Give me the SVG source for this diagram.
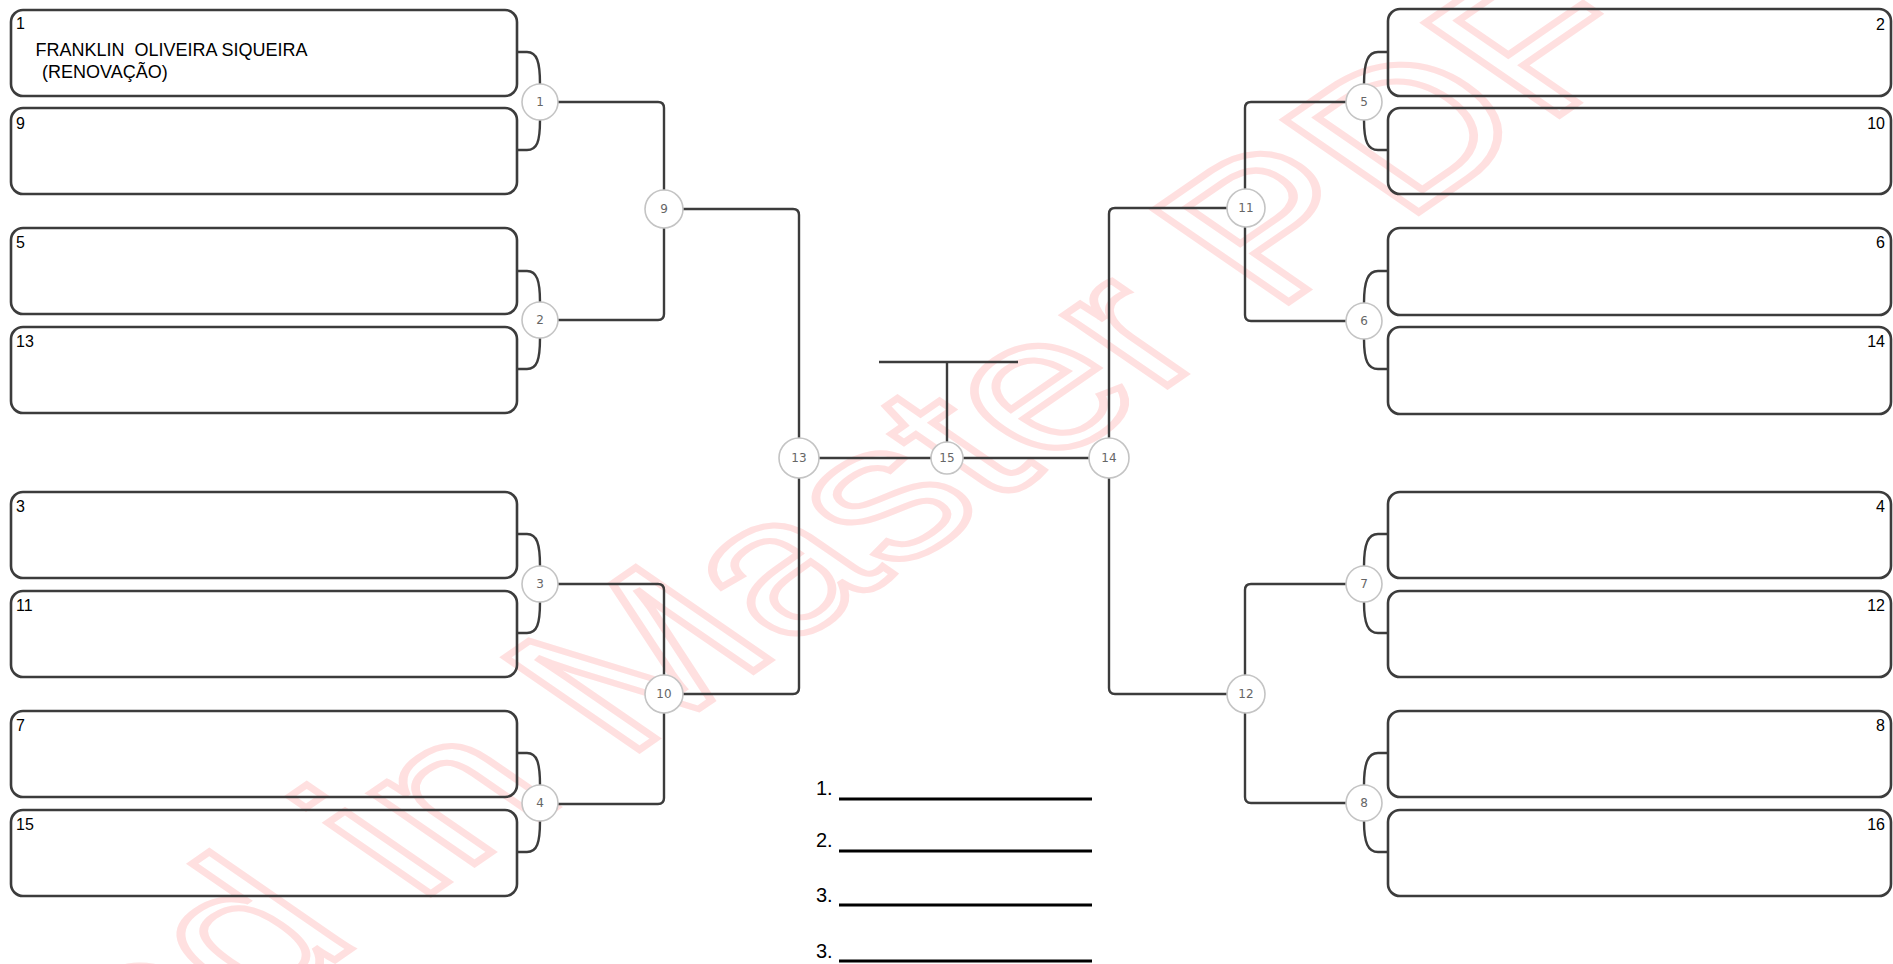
<svg xmlns="http://www.w3.org/2000/svg" width="1893" height="964" viewBox="0 0 1893 964">
<style>
.box{fill:none;stroke:#3c3c3c;stroke-width:2.6}
.br{fill:none;stroke:#3c3c3c;stroke-width:2.4}
.cn{fill:none;stroke:#3c3c3c;stroke-width:2.4}
.c{fill:#fff;stroke:#c4c4c4;stroke-width:1.6}
.ct{font-family:"DejaVu Sans",sans-serif;font-size:12px;fill:#666;text-anchor:middle}
.lb{font-family:"Liberation Sans",Arial,sans-serif;font-size:16px;fill:#000}
.lr{font-family:"Liberation Sans",Arial,sans-serif;font-size:16px;fill:#000;text-anchor:end}
.nm{font-family:"Liberation Sans",Arial,sans-serif;font-size:18px;fill:#000;white-space:pre}
.pl{font-family:"Liberation Sans",Arial,sans-serif;font-size:20px;fill:#000}
.ul{stroke:#000;stroke-width:3}
.wm{font-family:"Liberation Sans",Arial,sans-serif;font-size:190px;fill:none;stroke:#ffe0e0;stroke-width:6;text-anchor:middle}
</style>

<g id="watermark">
<text class="wm" transform="translate(948,537) scale(1.45,1) rotate(-45)" x="0" y="0">Created in Master PDF Editor</text>
</g>

<g id="connectors">
<path class="br" d="M517,52 H527 C537,52 540,62 540,84 M540,120 C540,142 537,150 527,150 H517"/>
<path class="br" d="M517,271 H527 C537,271 540,281 540,302 M540,338 C540,360 537,369 527,369 H517"/>
<path class="br" d="M517,534 H527 C537,534 540,544 540,566 M540,602 C540,624 537,633 527,633 H517"/>
<path class="br" d="M517,753 H527 C537,753 540,763 540,785 M540,821 C540,843 537,852 527,852 H517"/>
<path class="br" d="M1388,52 H1378 C1368,52 1364,62 1364,84 M1364,120 C1364,142 1368,150 1378,150 H1388"/>
<path class="br" d="M1388,271 H1378 C1368,271 1364,281 1364,303 M1364,339 C1364,361 1368,369 1378,369 H1388"/>
<path class="br" d="M1388,534 H1378 C1368,534 1364,544 1364,566 M1364,602 C1364,624 1368,633 1378,633 H1388"/>
<path class="br" d="M1388,753 H1378 C1368,753 1364,763 1364,785 M1364,821 C1364,843 1368,852 1378,852 H1388"/>
<path class="cn" d="M540,102 H658 Q664,102 664,108 V314 Q664,320 658,320 H540"/>
<path class="cn" d="M540,584 H658 Q664,584 664,590 V798 Q664,804 658,804 H540"/>
<path class="cn" d="M664,209 H793 Q799,209 799,215 V688 Q799,694 793,694 H664"/>
<path class="cn" d="M1364,102 H1251 Q1245,102 1245,108 V315 Q1245,321 1251,321 H1364"/>
<path class="cn" d="M1364,584 H1251 Q1245,584 1245,590 V797 Q1245,803 1251,803 H1364"/>
<path class="cn" d="M1246,208 H1115 Q1109,208 1109,214 V688 Q1109,694 1115,694 H1246"/>
<path class="cn" d="M799,458 H1109"/>
<path class="cn" d="M879,362 H1018 M947,362 V458"/>
</g>

<g id="team-1"><rect class="box" x="11" y="10" width="506" height="86" rx="12"/><text class="lb" x="16" y="29">1</text>
<text class="nm" x="35.5" y="56">FRANKLIN  OLIVEIRA SIQUEIRA</text><text class="nm" x="42" y="78">(RENOVAÇÃO)</text></g>
<g id="team-9"><rect class="box" x="11" y="108" width="506" height="86" rx="12"/><text class="lb" x="16" y="129">9</text></g>
<g id="team-5"><rect class="box" x="11" y="228" width="506" height="86" rx="12"/><text class="lb" x="16" y="248">5</text></g>
<g id="team-13"><rect class="box" x="11" y="327" width="506" height="86" rx="12"/><text class="lb" x="16" y="347">13</text></g>
<g id="team-3"><rect class="box" x="11" y="492" width="506" height="86" rx="12"/><text class="lb" x="16" y="512">3</text></g>
<g id="team-11"><rect class="box" x="11" y="591" width="506" height="86" rx="12"/><text class="lb" x="16" y="611">11</text></g>
<g id="team-7"><rect class="box" x="11" y="711" width="506" height="86" rx="12"/><text class="lb" x="16" y="731">7</text></g>
<g id="team-15"><rect class="box" x="11" y="810" width="506" height="86" rx="12"/><text class="lb" x="16" y="830">15</text></g>

<g id="team-2"><rect class="box" x="1388" y="9" width="503" height="87" rx="12"/><text class="lr" x="1885" y="30">2</text></g>
<g id="team-10"><rect class="box" x="1388" y="108" width="503" height="86" rx="12"/><text class="lr" x="1885" y="129">10</text></g>
<g id="team-6"><rect class="box" x="1388" y="228" width="503" height="87" rx="12"/><text class="lr" x="1885" y="248">6</text></g>
<g id="team-14"><rect class="box" x="1388" y="327" width="503" height="87" rx="12"/><text class="lr" x="1885" y="347">14</text></g>
<g id="team-4"><rect class="box" x="1388" y="492" width="503" height="86" rx="12"/><text class="lr" x="1885" y="512">4</text></g>
<g id="team-12"><rect class="box" x="1388" y="591" width="503" height="86" rx="12"/><text class="lr" x="1885" y="611">12</text></g>
<g id="team-8"><rect class="box" x="1388" y="711" width="503" height="86" rx="12"/><text class="lr" x="1885" y="731">8</text></g>
<g id="team-16"><rect class="box" x="1388" y="810" width="503" height="86" rx="12"/><text class="lr" x="1885" y="830">16</text></g>

<g id="match-1"><circle class="c" cx="540" cy="102" r="18"/><text class="ct" x="540" y="106">1</text></g>
<g id="match-2"><circle class="c" cx="540" cy="320" r="18"/><text class="ct" x="540" y="324">2</text></g>
<g id="match-3"><circle class="c" cx="540" cy="584" r="18"/><text class="ct" x="540" y="588">3</text></g>
<g id="match-4"><circle class="c" cx="540" cy="803" r="18"/><text class="ct" x="540" y="807">4</text></g>
<g id="match-5"><circle class="c" cx="1364" cy="102" r="18"/><text class="ct" x="1364" y="106">5</text></g>
<g id="match-6"><circle class="c" cx="1364" cy="321" r="18"/><text class="ct" x="1364" y="325">6</text></g>
<g id="match-7"><circle class="c" cx="1364" cy="584" r="18"/><text class="ct" x="1364" y="588">7</text></g>
<g id="match-8"><circle class="c" cx="1364" cy="803" r="18"/><text class="ct" x="1364" y="807">8</text></g>
<g id="match-9"><circle class="c" cx="664" cy="209" r="19"/><text class="ct" x="664" y="213">9</text></g>
<g id="match-10"><circle class="c" cx="664" cy="694" r="19"/><text class="ct" x="664" y="698">10</text></g>
<g id="match-11"><circle class="c" cx="1246" cy="208" r="19"/><text class="ct" x="1246" y="212">11</text></g>
<g id="match-12"><circle class="c" cx="1246" cy="694" r="19"/><text class="ct" x="1246" y="698">12</text></g>
<g id="match-13"><circle class="c" cx="799" cy="458" r="20"/><text class="ct" x="799" y="462">13</text></g>
<g id="match-14"><circle class="c" cx="1109" cy="458" r="20"/><text class="ct" x="1109" y="462">14</text></g>
<g id="match-15"><circle class="c" cx="947" cy="458" r="16"/><text class="ct" x="947" y="462">15</text></g>

<g id="podium">
<text class="pl" x="816" y="795">1.</text><line class="ul" x1="839" y1="799" x2="1092" y2="799"/>
<text class="pl" x="816" y="847">2.</text><line class="ul" x1="839" y1="851" x2="1092" y2="851"/>
<text class="pl" x="816" y="902">3.</text><line class="ul" x1="839" y1="905" x2="1092" y2="905"/>
<text class="pl" x="816" y="958">3.</text><line class="ul" x1="839" y1="961" x2="1092" y2="961"/>
</g>
</svg>
